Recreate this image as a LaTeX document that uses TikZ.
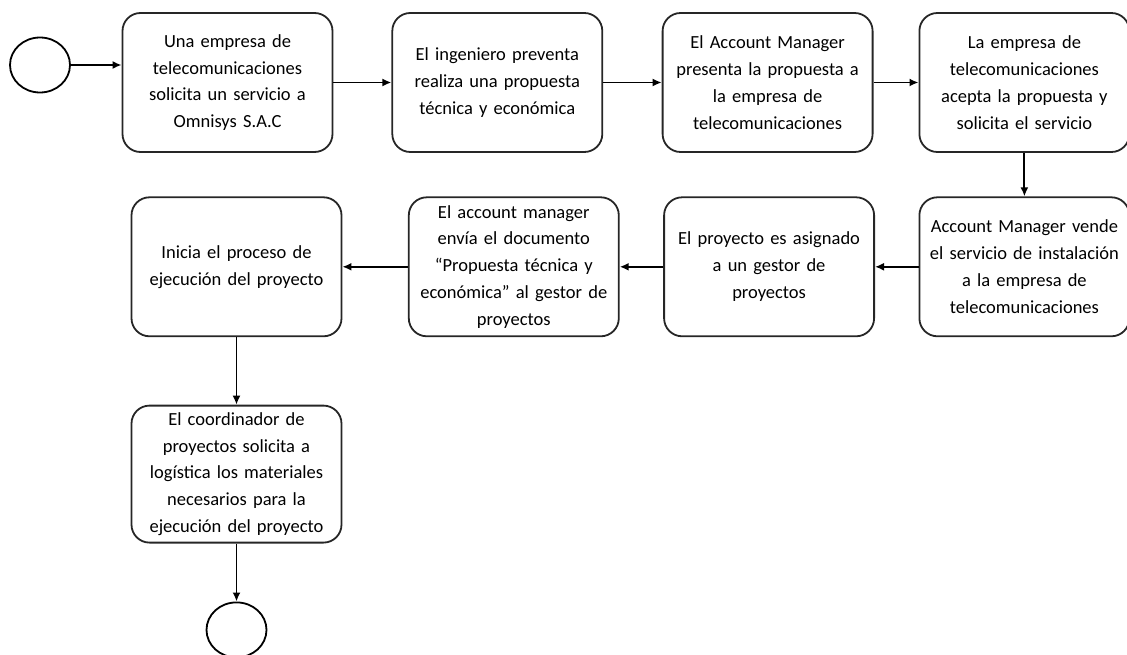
\documentclass[tikz,border=0pt]{standalone}
\usepackage{fontspec}
\setmainfont{Carlito}
\usetikzlibrary{arrows.meta, positioning, shapes.geometric}
\tikzset{
  stepbox/.style={rectangle, rounded corners=18pt, draw=black!85, line width=1.8pt,
              minimum width=210pt, minimum height=139pt, text width=204pt, align=center,
              font=\fontsize{18.5}{26.8}\selectfont, inner sep=0pt},
  endpoint/.style={ellipse, draw=black, line width=1.8pt, minimum width=60pt,
              minimum height=55pt, inner sep=0pt},
  arrow/.style={-{Latex[length=9pt,width=8pt]}, line width=1.9pt, color=black},
}

\begin{document}
\begin{tikzpicture}[x=1pt, y=-1pt]
  \useasboundingbox (0,0) rectangle (1127,655);

  % first row
  \node[endpoint] (start) at (40,65) {};
  \node[stepbox] (offer) at (227.5,82.5)
        {Una empresa de\\telecomunicaciones\\solicita un servicio a\\Omnisys S.A.C};
  \node[stepbox, right=58pt of offer] (presale)
        {El ingeniero preventa\\realiza una propuesta\\técnica y económica};
  \node[stepbox, right=58.5pt of presale] (present)
        {El Account Manager\\presenta la propuesta a\\la empresa de\\telecomunicaciones};
  \node[stepbox, right=45pt of present] (accept)
        {La empresa de\\telecomunicaciones\\acepta la propuesta y\\solicita el servicio};

  % second row, right to left
  \node[stepbox, below=43.5pt of accept] (sell)
        {Account Manager vende\\el servicio de instalación\\a la empresa de\\telecomunicaciones};
  \node[stepbox, left=43.5pt of sell] (assign)
        {El proyecto es asignado\\a un gestor de\\proyectos};
  \node[stepbox, left=43.5pt of assign] (senddoc)
        {El account manager\\envía el documento\\“Propuesta técnica y\\económica” al gestor de\\proyectos};
  \node[stepbox, left=65.5pt of senddoc] (begin)
        {Inicia el proceso de\\ejecución del proyecto};

  % last column
  \node[stepbox, minimum height=137pt, below=67.5pt of begin] (materials)
        {El coordinador de\\proyectos solicita a\\logística los materiales\\necesarios para la\\ejecución del proyecto};
  \node[endpoint, below=58pt of materials] (finish) {};

  \draw[arrow] (start.east) -- (start.east -| offer.west);
  \draw[arrow] (offer) -- (presale);
  \draw[arrow] (presale) -- (present);
  \draw[arrow] (present) -- (accept);
  \draw[arrow] (accept) -- (sell);
  \draw[arrow] (sell) -- (assign);
  \draw[arrow] (assign) -- (senddoc);
  \draw[arrow] (senddoc) -- (begin);
  \draw[arrow] (begin) -- (materials);
  \draw[arrow] (materials) -- (finish);
\end{tikzpicture}
\end{document}
